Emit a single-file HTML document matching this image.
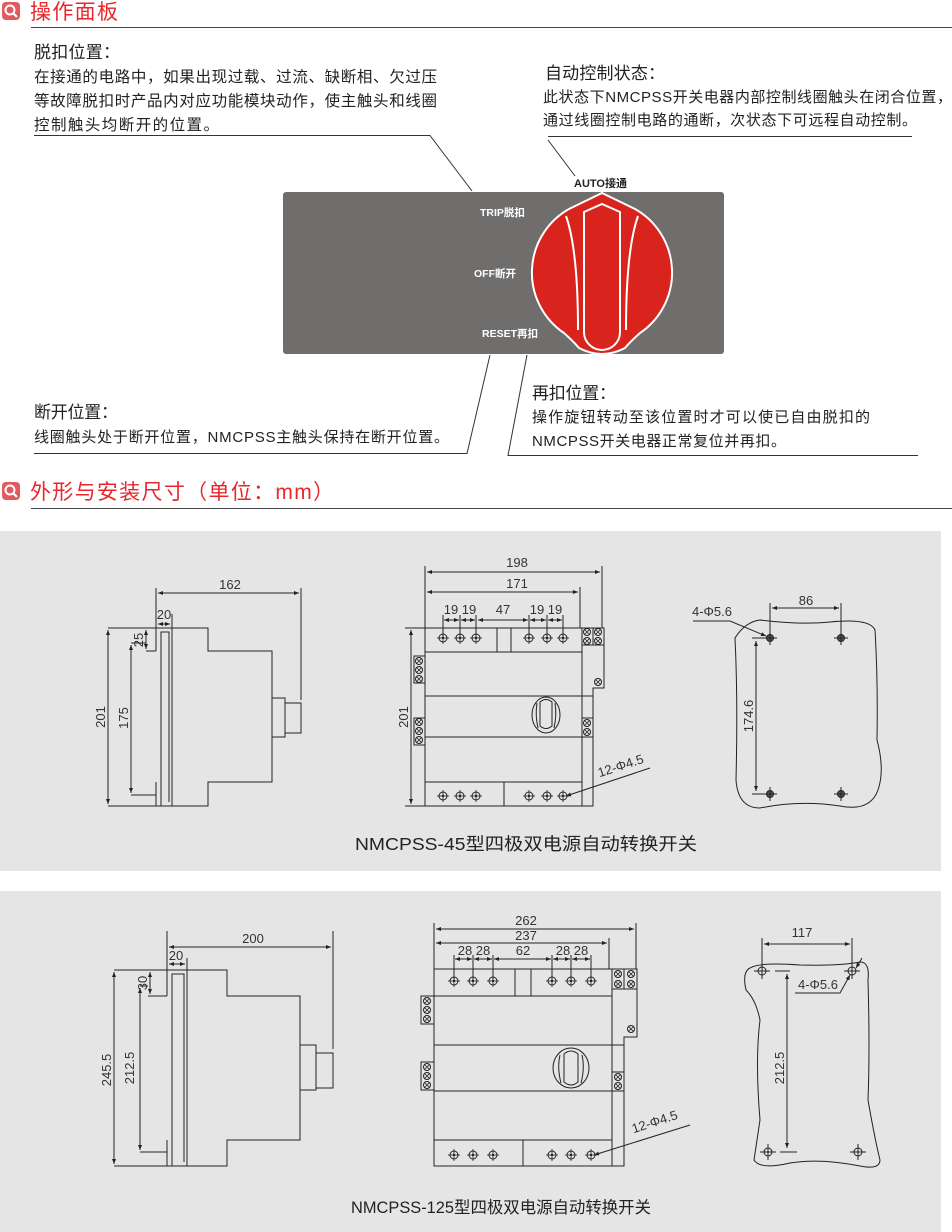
<!DOCTYPE html>
<html><head><meta charset="utf-8"><style>
html,body{margin:0;padding:0;background:#fff;width:952px;height:1232px;overflow:hidden}
svg{display:block}
text{font-family:"Liberation Sans","Noto Sans CJK SC",sans-serif}
</style></head><body>
<svg width="952" height="1232" viewBox="0 0 952 1232" xmlns="http://www.w3.org/2000/svg">
<defs>
<marker id="a" viewBox="0 0 10 10" refX="10" refY="5" markerWidth="6" markerHeight="5" orient="auto-start-reverse"><path d="M0,1 L10,5 L0,9 z" fill="#222"/></marker>
<g id="h"><circle r="4" fill="none" stroke="#222" stroke-width="1"/><circle r="1.2" fill="#222"/><line x1="-6" y1="0" x2="6" y2="0" stroke="#222" stroke-width="0.8"/><line x1="0" y1="-6" x2="0" y2="6" stroke="#222" stroke-width="0.8"/></g>
<g id="t"><circle r="3.5" fill="none" stroke="#222" stroke-width="1"/><line x1="-2.4" y1="-2.4" x2="2.4" y2="2.4" stroke="#222" stroke-width="0.8"/><line x1="-2.4" y1="2.4" x2="2.4" y2="-2.4" stroke="#222" stroke-width="0.8"/></g>
<g id="m"><circle r="3.5" fill="#555" stroke="#222"/><line x1="-7" y1="0" x2="7" y2="0" stroke="#222"/><line x1="0" y1="-7" x2="0" y2="7" stroke="#222"/></g>
<g id="m2"><circle r="4" fill="none" stroke="#222"/><line x1="-8" y1="0" x2="8" y2="0" stroke="#222"/><line x1="0" y1="-8" x2="0" y2="8" stroke="#222"/></g>
</defs>

<!-- header 1 -->
<rect x="2" y="2" width="18" height="18" rx="4" fill="#e05a5e"/>
<circle cx="10" cy="10" r="4.5" fill="none" stroke="#fff" stroke-width="2"/><line x1="13" y1="13" x2="17" y2="17" stroke="#fff" stroke-width="2.2"/>
<text x="30" y="19" font-size="21" fill="#e8262b" textLength="88" lengthAdjust="spacing">操作面板</text>
<line x1="31" y1="27.5" x2="952" y2="27.5" stroke="#444" stroke-width="1"/>

<g fill="#222">
<text x="34" y="58" font-size="17" textLength="86" lengthAdjust="spacing">脱扣位置：</text>
<text x="34" y="82" font-size="15.5" textLength="403" lengthAdjust="spacing">在接通的电路中，如果出现过载、过流、缺断相、欠过压</text>
<text x="34" y="106" font-size="15.5" textLength="403" lengthAdjust="spacing">等故障脱扣时产品内对应功能模块动作，使主触头和线圈</text>
<text x="34" y="130" font-size="15.5" textLength="185" lengthAdjust="spacing">控制触头均断开的位置。</text>
<text x="545" y="79" font-size="17" textLength="120" lengthAdjust="spacing">自动控制状态：</text>
<text x="543" y="102" font-size="15" textLength="409" lengthAdjust="spacing">此状态下NMCPSS开关电器内部控制线圈触头在闭合位置，</text>
<text x="543" y="125" font-size="15" textLength="374" lengthAdjust="spacing">通过线圈控制电路的通断，次状态下可远程自动控制。</text>
<text x="34" y="418" font-size="17" textLength="84" lengthAdjust="spacing">断开位置：</text>
<text x="34" y="442" font-size="15" textLength="415" lengthAdjust="spacing">线圈触头处于断开位置，NMCPSS主触头保持在断开位置。</text>
<text x="532" y="399" font-size="17" textLength="84" lengthAdjust="spacing">再扣位置：</text>
<text x="532" y="422" font-size="15" textLength="338" lengthAdjust="spacing">操作旋钮转动至该位置时才可以使已自由脱扣的</text>
<text x="532" y="446" font-size="15" textLength="254" lengthAdjust="spacing">NMCPSS开关电器正常复位并再扣。</text>
</g>
<g stroke="#333" stroke-width="1" fill="none">
<polyline points="34,135.5 430,135.5 472,191"/>
<polyline points="548,136.5 912,136.5"/>
<line x1="548" y1="140" x2="575" y2="176"/>
<polyline points="34,453.5 467,453.5 490,355"/>
<polyline points="527,355 508,455.5 918,455.5"/>
</g>

<!-- panel -->
<rect x="283" y="192" width="441" height="162" rx="3" fill="#6f6e6d"/>
<text x="574" y="187" font-size="11" font-weight="bold" fill="#222">AUTO接通</text>
<g fill="#fff" font-size="10.5" font-weight="bold">
<text x="480" y="216">TRIP脱扣</text>
<text x="474" y="277">OFF断开</text>
<text x="482" y="337">RESET再扣</text>
</g>
<path d="M602,193 L635,209 A73,73 0 0 1 640,333 Q630,342 625,348 Q602,360 579,348 Q574,342 564,333 A73,73 0 0 1 569,209 Z" fill="#d8241d" stroke="#fff" stroke-width="2"/>
<path d="M566,216 Q578,250 578,330 M638,216 Q626,250 626,330" fill="none" stroke="#fff" stroke-width="2"/>
<path d="M584,212 L602,204 L620,212 L620,332 A18,18 0 0 1 584,332 Z" fill="none" stroke="#fff" stroke-width="2"/>

<!-- header 2 -->
<rect x="2" y="482" width="18" height="18" rx="4" fill="#e05a5e"/>
<circle cx="10" cy="490" r="4.5" fill="none" stroke="#fff" stroke-width="2"/><line x1="13" y1="493" x2="17" y2="497" stroke="#fff" stroke-width="2.2"/>
<text x="30" y="499" font-size="21" fill="#e8262b" textLength="304" lengthAdjust="spacing">外形与安装尺寸（单位：mm）</text>
<line x1="31" y1="508.5" x2="952" y2="508.5" stroke="#444" stroke-width="1"/>

<rect x="0" y="531" width="941" height="340" fill="#e5e5e5"/>
<rect x="0" y="891" width="941" height="341" fill="#e5e5e5"/>

<g stroke="#222" stroke-width="1" fill="none">
<!-- side view 1 -->
<path d="M172,628 L208,628 L208,651 L272,651 L272,782 L208,782 L208,806 L172,806"/>
<path d="M156,628 L172,628 L172,806 L156,806 L156,782 M156,651 L156,628"/>
<path d="M161,806 L161,632 L169,632 L169,802"/>
<path d="M146,651 L156,651 M108,628 L156,628 M108,806 L156,806 M131,643 L146,643 M131,795 L156,795 L156,782"/>
<rect x="272" y="698" width="13" height="39"/><rect x="285" y="703" width="16" height="30"/>
<line x1="156" y1="588" x2="156" y2="628"/><line x1="301" y1="588" x2="301" y2="700"/><line x1="172" y1="614" x2="172" y2="628"/>
<line x1="108" y1="630" x2="108" y2="804" marker-start="url(#a)" marker-end="url(#a)"/>
<line x1="131" y1="645" x2="131" y2="793" marker-start="url(#a)" marker-end="url(#a)"/>
<line x1="146" y1="630" x2="146" y2="649" marker-start="url(#a)" marker-end="url(#a)"/>
<line x1="158" y1="593" x2="299" y2="593" marker-start="url(#a)" marker-end="url(#a)"/>
<line x1="158" y1="624" x2="170" y2="624" marker-start="url(#a)" marker-end="url(#a)"/>

<!-- front view 1 -->
<rect x="425" y="628" width="157" height="178"/>
<path d="M582,628 L604,628 L604,688 L593,688 L593,806 L582,806"/>
<path d="M582,645 L604,645 M425,652 L582,652 M425,696 L593,696 M425,737 L593,737 M425,782 L582,782 M497,628 L497,652 M511,628 L511,652 M504,782 L504,806 M593,628 L593,645"/>
<rect x="414" y="656" width="11" height="27"/><rect x="414" y="718" width="11" height="27"/>
<rect x="582" y="718" width="11" height="19"/>
<line x1="425" y1="566" x2="425" y2="628"/><line x1="602" y1="566" x2="602" y2="628"/><line x1="580" y1="587" x2="580" y2="628"/>
<line x1="427" y1="572" x2="600" y2="572" marker-start="url(#a)" marker-end="url(#a)"/>
<line x1="427" y1="592" x2="578" y2="592" marker-start="url(#a)" marker-end="url(#a)"/>
<line x1="444" y1="620" x2="459" y2="620" marker-start="url(#a)" marker-end="url(#a)"/>
<line x1="461" y1="620" x2="475" y2="620" marker-start="url(#a)" marker-end="url(#a)"/>
<line x1="478" y1="620" x2="528" y2="620" marker-start="url(#a)" marker-end="url(#a)"/>
<line x1="530" y1="620" x2="546" y2="620" marker-start="url(#a)" marker-end="url(#a)"/>
<line x1="548" y1="620" x2="562" y2="620" marker-start="url(#a)" marker-end="url(#a)"/>
<path d="M443,615 V638 M460,615 V638 M476,615 V638 M529,615 V638 M547,615 V638 M563,615 V638"/>
<line x1="411" y1="630" x2="411" y2="804" marker-start="url(#a)" marker-end="url(#a)"/>
<path d="M405,628 H425 M405,806 H425"/>
<ellipse cx="546" cy="715" rx="14" ry="18"/>
<path d="M540,702 Q546,697 552,702 L552,726 Q546,731 540,726 Z M537,703 Q535,715 538,728 M555,703 Q557,715 554,728"/>
<line x1="650" y1="768" x2="566" y2="796" marker-end="url(#a)"/>

<!-- mount 1 -->
<path d="M735,638 Q745,622 760,620 Q800,625 830,622 Q870,618 875,630 Q878,680 877,740 Q885,770 878,790 Q870,812 840,806 Q800,800 760,808 Q738,808 736,780 Q738,700 735,638 Z"/>
<path d="M770,603 V638 M841,603 V638 M752,638 H770 M752,794 H770"/>
<line x1="772" y1="608" x2="839" y2="608" marker-start="url(#a)" marker-end="url(#a)"/>
<line x1="756" y1="641" x2="756" y2="791" marker-start="url(#a)" marker-end="url(#a)"/>
<polyline points="693,621 730,621 766,636" marker-end="url(#a)"/>

<!-- side view 2 -->
<path d="M187,970 L227,970 L227,996 L300,996 L300,1140 L227,1140 L227,1166 L187,1166"/>
<path d="M167,970 L187,970 L187,1166 L167,1166 L167,1140 M167,996 L167,931"/>
<path d="M172,1166 L172,974 L184,974 L184,1162"/>
<path d="M148,996 L167,996 M114,970 L167,970 M114,1166 L167,1166 M140,986 L148,986 M140,1152 L167,1152 L167,1140"/>
<rect x="300" y="1045" width="16" height="45"/><rect x="316" y="1053" width="17" height="35"/>
<line x1="333" y1="931" x2="333" y2="1049"/><line x1="187" y1="958" x2="187" y2="970"/>
<line x1="114" y1="972" x2="114" y2="1164" marker-start="url(#a)" marker-end="url(#a)"/>
<line x1="140" y1="988" x2="140" y2="1150" marker-start="url(#a)" marker-end="url(#a)"/>
<line x1="150" y1="972" x2="150" y2="994" marker-start="url(#a)" marker-end="url(#a)"/>
<line x1="169" y1="947" x2="331" y2="947" marker-start="url(#a)" marker-end="url(#a)"/>
<line x1="169" y1="964" x2="185" y2="964" marker-start="url(#a)" marker-end="url(#a)"/>

<!-- front view 2 -->
<rect x="434" y="969" width="178" height="197"/>
<path d="M612,969 L637,969 L637,1037 L624,1037 L624,1166 L612,1166"/>
<path d="M612,989 L637,989 M434,996 L612,996 M434,1045 L624,1045 M434,1091 L624,1091 M434,1140 L612,1140 M515,969 V996 M531,969 V996 M523,1140 V1166 M624,969 V989"/>
<rect x="421" y="996" width="13" height="28"/><rect x="421" y="1062" width="13" height="28"/>
<rect x="612" y="1072" width="12" height="19"/>
<line x1="434" y1="923" x2="434" y2="969"/><line x1="636" y1="923" x2="636" y2="969"/><line x1="609" y1="938" x2="609" y2="969"/>
<line x1="436" y1="929" x2="634" y2="929" marker-start="url(#a)" marker-end="url(#a)"/>
<line x1="436" y1="943" x2="607" y2="943" marker-start="url(#a)" marker-end="url(#a)"/>
<line x1="455" y1="959" x2="472" y2="959" marker-start="url(#a)" marker-end="url(#a)"/>
<line x1="474" y1="959" x2="492" y2="959" marker-start="url(#a)" marker-end="url(#a)"/>
<line x1="494" y1="959" x2="551" y2="959" marker-start="url(#a)" marker-end="url(#a)"/>
<line x1="553" y1="959" x2="570" y2="959" marker-start="url(#a)" marker-end="url(#a)"/>
<line x1="572" y1="959" x2="590" y2="959" marker-start="url(#a)" marker-end="url(#a)"/>
<path d="M454,955 V981 M473,955 V981 M493,955 V981 M552,955 V981 M571,955 V981 M591,955 V981"/>
<ellipse cx="571" cy="1068" rx="18" ry="20"/>
<path d="M564,1054 Q571,1048 578,1054 L578,1082 Q571,1088 564,1082 Z M560,1055 Q557,1068 561,1083 M582,1055 Q585,1068 581,1083"/>
<line x1="690" y1="1125" x2="594" y2="1155" marker-end="url(#a)"/>

<!-- mount 2 -->
<path d="M750,968 Q760,962 800,965 Q840,966 860,962 Q870,962 868,980 Q870,1050 868,1100 Q875,1140 880,1160 Q880,1170 860,1166 Q820,1158 790,1163 Q760,1170 754,1160 Q757,1140 760,1120 Q755,1060 760,1020 Q756,1000 746,990 Q742,972 750,968 Z"/>
<path d="M762,938 V975 M852,938 V975 M775,971 H790 M780,1152 H797"/>
<line x1="764" y1="944" x2="850" y2="944" marker-start="url(#a)" marker-end="url(#a)"/>
<line x1="787" y1="974" x2="787" y2="1148" marker-start="url(#a)" marker-end="url(#a)"/>
<polyline points="795,993 840,993 850,975" marker-end="url(#a)"/>
<line x1="862" y1="958" x2="856" y2="968" marker-end="url(#a)"/>
</g>

<!-- holes / terminals -->
<g>
<use href="#h" x="443" y="638"/><use href="#h" x="460" y="638"/><use href="#h" x="476" y="638"/>
<use href="#h" x="529" y="638"/><use href="#h" x="547" y="638"/><use href="#h" x="563" y="638"/>
<use href="#h" x="443" y="796"/><use href="#h" x="460" y="796"/><use href="#h" x="476" y="796"/>
<use href="#h" x="529" y="796"/><use href="#h" x="547" y="796"/><use href="#h" x="563" y="796"/>
<use href="#t" x="587" y="632"/><use href="#t" x="598" y="632"/><use href="#t" x="587" y="641"/><use href="#t" x="598" y="641"/>
<use href="#t" x="598" y="682"/><use href="#t" x="419" y="661"/><use href="#t" x="419" y="670"/><use href="#t" x="419" y="679"/>
<use href="#t" x="419" y="722"/><use href="#t" x="419" y="731"/><use href="#t" x="419" y="740"/>
<use href="#t" x="587" y="723"/><use href="#t" x="587" y="732"/>
<use href="#m" x="770" y="638"/><use href="#m" x="841" y="638"/><use href="#m" x="770" y="794"/><use href="#m" x="841" y="794"/>

<use href="#h" x="454" y="981"/><use href="#h" x="473" y="981"/><use href="#h" x="493" y="981"/>
<use href="#h" x="552" y="981"/><use href="#h" x="571" y="981"/><use href="#h" x="591" y="981"/>
<use href="#h" x="454" y="1155"/><use href="#h" x="473" y="1155"/><use href="#h" x="493" y="1155"/>
<use href="#h" x="552" y="1155"/><use href="#h" x="571" y="1155"/><use href="#h" x="591" y="1155"/>
<use href="#t" x="618" y="974"/><use href="#t" x="631" y="974"/><use href="#t" x="618" y="984"/><use href="#t" x="631" y="984"/>
<use href="#t" x="631" y="1029"/><use href="#t" x="427" y="1001"/><use href="#t" x="427" y="1010"/><use href="#t" x="427" y="1019"/>
<use href="#t" x="427" y="1067"/><use href="#t" x="427" y="1076"/><use href="#t" x="427" y="1085"/>
<use href="#t" x="618" y="1077"/><use href="#t" x="618" y="1086"/>
<use href="#m2" x="762" y="971"/><use href="#m2" x="852" y="971"/><use href="#m2" x="768" y="1152"/><use href="#m2" x="858" y="1152"/>
</g>

<!-- dimension labels -->
<g fill="#333" font-size="13" text-anchor="middle">
<text x="230" y="589">162</text>
<text x="164" y="619">20</text>
<text transform="translate(143,640) rotate(-90)">25</text>
<text transform="translate(105,717) rotate(-90)">201</text>
<text transform="translate(128,718) rotate(-90)">175</text>
<text x="517" y="567">198</text>
<text x="517" y="588">171</text>
<text x="460" y="614">19 19</text>
<text x="503" y="614">47</text>
<text x="546" y="614">19 19</text>
<text transform="translate(408,717) rotate(-90)">201</text>
<text transform="translate(622,770) rotate(-18)">12-Φ4.5</text>
<text x="806" y="605">86</text>
<text x="712" y="616">4-Φ5.6</text>
<text transform="translate(753,716) rotate(-90)">174.6</text>

<text x="253" y="943">200</text>
<text x="176" y="960">20</text>
<text transform="translate(147,983) rotate(-90)">30</text>
<text transform="translate(111,1070) rotate(-90)">245.5</text>
<text transform="translate(134,1068) rotate(-90)">212.5</text>
<text x="526" y="925">262</text>
<text x="526" y="940">237</text>
<text x="474" y="955">28 28</text>
<text x="523" y="955">62</text>
<text x="572" y="955">28 28</text>
<text transform="translate(656,1126) rotate(-18)">12-Φ4.5</text>
<text x="802" y="937">117</text>
<text x="818" y="989">4-Φ5.6</text>
<text transform="translate(784,1068) rotate(-90)">212.5</text>
</g>
<text x="355" y="850" font-size="17.5" fill="#222" textLength="342" lengthAdjust="spacingAndGlyphs">NMCPSS-45型四极双电源自动转换开关</text>
<text x="351" y="1213" font-size="16.5" fill="#222" textLength="300" lengthAdjust="spacingAndGlyphs">NMCPSS-125型四极双电源自动转换开关</text>
</svg>
</body></html>
